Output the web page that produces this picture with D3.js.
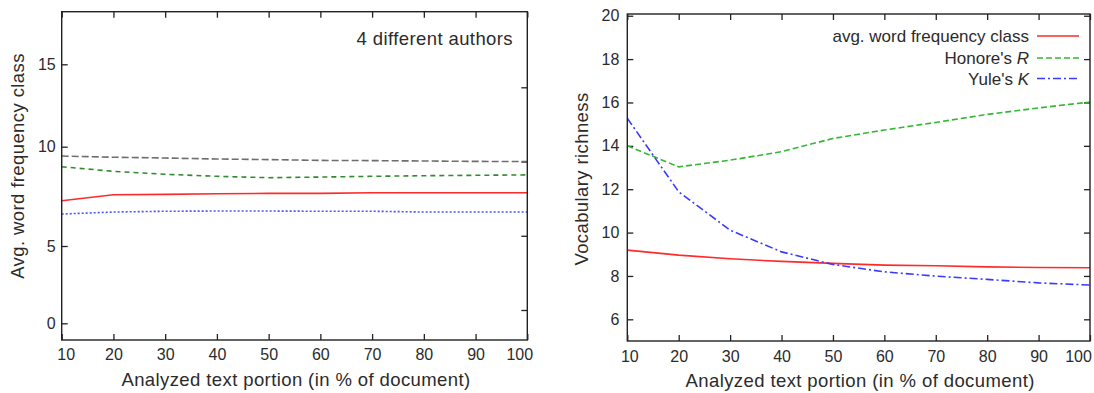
<!DOCTYPE html>
<html>
<head>
<meta charset="utf-8">
<script src="https://cdn.jsdelivr.net/npm/d3@7"></script>
<style>
body { margin: 0; background: #fff; }
text { font-family: "Liberation Sans", Arial, sans-serif; fill: #2b2b2b; }
</style>
</head>
<body>
<svg width="1094" height="393"></svg>
<script>
// x values: analyzed text portion (%)
var portions = [10, 20, 30, 40, 50, 60, 70, 80, 90, 100];

// left chart: avg. word frequency class, 4 different authors
var author1 = [9.53, 9.47, 9.43, 9.38, 9.35, 9.31, 9.30, 9.28, 9.26, 9.25];
var author2 = [8.99, 8.76, 8.61, 8.51, 8.44, 8.47, 8.51, 8.54, 8.56, 8.58];
var author3 = [7.28, 7.58, 7.60, 7.63, 7.65, 7.65, 7.68, 7.68, 7.68, 7.68];
var author4 = [6.61, 6.71, 6.75, 6.76, 6.76, 6.75, 6.75, 6.71, 6.71, 6.71];

// right chart: vocabulary richness measures
var avgWordFreq = [9.19, 8.96, 8.79, 8.67, 8.58, 8.50, 8.47, 8.42, 8.39, 8.38];
var honoreR = [14.0, 13.03, 13.34, 13.73, 14.34, 14.73, 15.08, 15.45, 15.75, 16.02];
var yuleK = [15.27, 11.88, 10.11, 9.11, 8.53, 8.19, 7.99, 7.84, 7.68, 7.58];

var leftYTicks = [0, 5, 10, 15];
var leftY2Ticks = [0, 1, 2, 3];
var rightYTicks = [6, 8, 10, 12, 14, 16, 18, 20];

function main() {
  var svg = d3.select("svg");

  function panel(o) {
    var g = svg.append("g");
    // bottom
    g.append("g")
      .attr("transform", `translate(0,${o.bottom})`)
      .call(d3.axisBottom(o.x).tickValues(portions).tickSizeInner(-6).tickSizeOuter(0).tickPadding(o.xPad))
      .call(a => a.select(".domain").remove())
      .call(a => a.selectAll("text").style("font-size", "16px").attr("fill", "#2b2b2b")
        .attr("dx", d => d == 10 ? o.firstDx : d == 100 ? o.lastDx : 0));
    // top (mirror)
    g.append("g")
      .attr("transform", `translate(0,${o.top})`)
      .call(d3.axisTop(o.x).tickValues(portions).tickSizeInner(-6).tickSizeOuter(0).tickFormat(""))
      .call(a => a.select(".domain").remove());
    // left
    g.append("g")
      .attr("transform", `translate(${o.left},0)`)
      .call(d3.axisLeft(o.y).tickValues(o.yTicks).tickSizeInner(-6).tickSizeOuter(0).tickPadding(o.yPad))
      .call(a => a.select(".domain").remove())
      .call(a => a.selectAll("text").style("font-size", "16px").attr("fill", "#2b2b2b"));
    // right
    g.append("g")
      .attr("transform", `translate(${o.right},0)`)
      .call(d3.axisRight(o.y2).tickValues(o.y2Ticks).tickSizeInner(-6).tickSizeOuter(0).tickFormat(""))
      .call(a => a.select(".domain").remove());
    g.selectAll(".tick line").attr("stroke", "#222").attr("stroke-width", 1.3);

    var line = d3.line().x((d, i) => o.x(portions[i])).y(d => o.y(d));
    o.series.forEach(function(s) {
      g.append("path")
        .datum(s.values)
        .attr("fill", "none")
        .attr("stroke", s.color)
        .attr("stroke-width", 1.6)
        .attr("stroke-dasharray", s.dash)
        .attr("d", line);
    });

    g.append("rect")
      .attr("x", o.left).attr("y", o.top)
      .attr("width", o.right - o.left).attr("height", o.bottom - o.top)
      .attr("fill", "none").attr("stroke", "#222").attr("stroke-width", 1.4);

    g.append("text")
      .attr("x", (o.left + o.right) / 2 + 1.5).attr("y", o.bottom + 46)
      .attr("text-anchor", "middle")
      .style("font-size", "18.5px").style("letter-spacing", "0.4px")
      .text("Analyzed text portion (in % of document)");

    g.append("text")
      .attr("transform", `translate(${o.titleX},${o.titleY}) rotate(-90)`)
      .attr("text-anchor", "middle")
      .style("font-size", "18.5px").style("letter-spacing", "0.4px")
      .text(o.yTitle);
    return g;
  }

  // left chart
  var xL = d3.scaleLinear().domain([10, 100]).range([61.7, 527.3]);
  var yL = d3.scaleLinear().domain(leftYTicks).range([323.3, 246, 146.7, 64.3]);
  var y2L = d3.scaleLinear().domain([0, 3]).range([310, 87.3]);
  var gl = panel({
    x: xL, y: yL, y2: y2L, yTicks: leftYTicks, y2Ticks: leftY2Ticks,
    left: 61.7, right: 527.3, top: 11.7, bottom: 340,
    xPad: 9, yPad: 6, firstDx: 4, lastDx: -8,
    titleX: 24, titleY: 166, yTitle: "Avg. word frequency class",
    series: [
      {values: author1, color: "#6e6e6e", dash: "7,3"},
      {values: author2, color: "#2e8b2e", dash: "5,4"},
      {values: author3, color: "#ff2a2a", dash: null},
      {values: author4, color: "#4455ff", dash: "2,2"}
    ]
  });
  gl.append("text")
    .attr("x", 513).attr("y", 45)
    .attr("text-anchor", "end")
    .style("font-size", "18.5px").style("letter-spacing", "0.4px")
    .text("4 different authors");

  // right chart
  var xR = d3.scaleLinear().domain([10, 100]).range([627.3, 1090]);
  var yR = d3.scaleLinear().domain([5, 20.08]).range([341, 14]);
  var rightSeries = [
    {name: "avg. word frequency class", values: avgWordFreq, color: "#ff2a2a", dash: null},
    {name: "Honore's ", it: "R", values: honoreR, color: "#33b833", dash: "6,3"},
    {name: "Yule's ", it: "K", values: yuleK, color: "#3a3aff", dash: "8,3,2,3"}
  ];
  var gr = panel({
    x: xR, y: yR, y2: yR, yTicks: rightYTicks, y2Ticks: rightYTicks,
    left: 627.3, right: 1090, top: 14, bottom: 341,
    xPad: 9.6, yPad: 8, firstDx: 2, lastDx: -12,
    titleX: 588, titleY: 179, yTitle: "Vocabulary richness",
    series: rightSeries
  });

  // legend
  var legY = [36, 58, 78.5];
  rightSeries.forEach(function(s, i) {
    var t = gr.append("text")
      .attr("x", 1029).attr("y", legY[i] + 6)
      .attr("text-anchor", "end")
      .style("font-size", "17px");
    t.append("tspan").text(s.name);
    if (s.it) t.append("tspan").style("font-style", "italic").text(s.it);
    gr.append("line")
      .attr("x1", 1037).attr("x2", 1079)
      .attr("y1", legY[i]).attr("y2", legY[i])
      .attr("stroke", s.color).attr("stroke-width", 1.6)
      .attr("stroke-dasharray", s.dash);
  });
}
main();
</script>
</body>
</html>
